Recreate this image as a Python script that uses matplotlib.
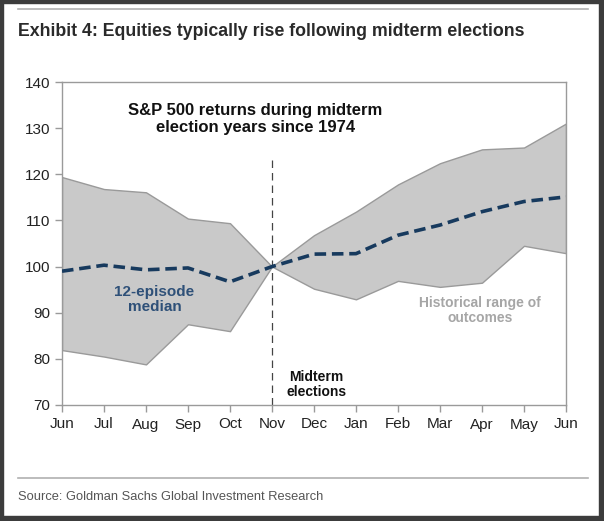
import matplotlib
matplotlib.use("Agg")
import matplotlib.pyplot as plt
from matplotlib.patches import Rectangle
from matplotlib.lines import Line2D

months = ["Jun", "Jul", "Aug", "Sep", "Oct", "Nov", "Dec", "Jan", "Feb", "Mar", "Apr", "May", "Jun"]
upper = [119.4, 116.8, 116.1, 110.4, 109.4, 100.0, 106.8, 111.9, 117.8, 122.4, 125.4, 125.8, 131.0]
lower = [81.9, 80.5, 78.8, 87.5, 86.0, 100.0, 95.2, 92.9, 96.9, 95.6, 96.5, 104.5, 102.9]
median = [99.0, 100.3, 99.3, 99.7, 96.7, 100.0, 102.7, 102.8, 106.8, 109.0, 111.9, 114.1, 115.1]
yticks = [70, 80, 90, 100, 110, 120, 130, 140]

plt.rcParams['font.family'] = ['Liberation Sans', 'DejaVu Sans']

W, H = 604, 521
fig = plt.figure(figsize=(W/100, H/100), dpi=100)
fig.patch.set_facecolor("white")

ax = fig.add_axes([62/W, 1-405/H, (566-62)/W, (405-82)/H])
x = list(range(len(months)))
ax.fill_between(x, lower, upper, facecolor="#c9c9c9", edgecolor="#9a9a9a", linewidth=1.0, zorder=1)
ax.plot(x, median, color="#173a5e", linewidth=2.6, linestyle=(0, (3.2, 1.6)), zorder=3)
ax.plot([5, 5], [70, 123.2], color="#444444", linewidth=0.9, linestyle=(0, (6, 4)), zorder=2)

ax.set_xlim(0, 12)
ax.set_ylim(70, 140)
ax.set_xticks(x)
ax.set_xticklabels(months)
ax.set_yticks(yticks)
for s in ax.spines.values():
    s.set_color("#9a9a9a")
    s.set_linewidth(1.0)
ax.tick_params(axis="both", colors="#9a9a9a", labelcolor="#222222", labelsize=11, length=5, width=1)
ax.tick_params(axis="x", pad=4)

ax.text(4.6, 132.0, "S&P 500 returns during midterm\nelection years since 1974", ha="center", va="center",
        fontsize=12, fontweight="bold", color="#111111", linespacing=1.15)
ax.text(2.2, 92.9, "12-episode\nmedian", ha="center", va="center", fontsize=11,
        fontweight="bold", color="#2e5078", linespacing=1.1)
ax.text(9.96, 90.4, "Historical range of\noutcomes", ha="center", va="center", fontsize=10,
        fontweight="bold", color="#a6a6a6", linespacing=1.1)
ax.text(6.05, 74.4, "Midterm\nelections", ha="center", va="center", fontsize=10,
        fontweight="bold", color="#111111", linespacing=1.1)


def fit_text(xpx, ypx, s, target_w, fs, **kw):
    t = fig.text(xpx/W, 1-ypx/H, s, ha="left", va="center", fontsize=fs, **kw)
    r = fig.canvas.get_renderer()
    w = t.get_window_extent(renderer=r).width
    t.set_fontsize(fs * target_w / w)
    return t


fit_text(18, 32, "Exhibit 4: Equities typically rise following midterm elections", 507, 14,
         fontweight="bold", color="#2a2a2a")
fit_text(18, 497, "Source: Goldman Sachs Global Investment Research", 305, 9.5, color="#555555")

fig.add_artist(Line2D([18/W, 588/W], [1-9/H, 1-9/H], color="#b0b0b0", linewidth=1.2))
fig.add_artist(Line2D([18/W, 588/W], [1-478/H, 1-478/H], color="#b0b0b0", linewidth=1.2))

# dark frame around screenshot
fc = "#3c3c3c"
fig.add_artist(Rectangle((0, 0), 3/W, 1, transform=fig.transFigure, color=fc))
fig.add_artist(Rectangle((1-5/W, 0), 5/W, 1, transform=fig.transFigure, color=fc))
fig.add_artist(Rectangle((0, 0), 1, 5/H, transform=fig.transFigure, color=fc))
fig.add_artist(Rectangle((0, 1-3/H), 1, 3/H, transform=fig.transFigure, color=fc))

fig.savefig("out.png", dpi=100)
